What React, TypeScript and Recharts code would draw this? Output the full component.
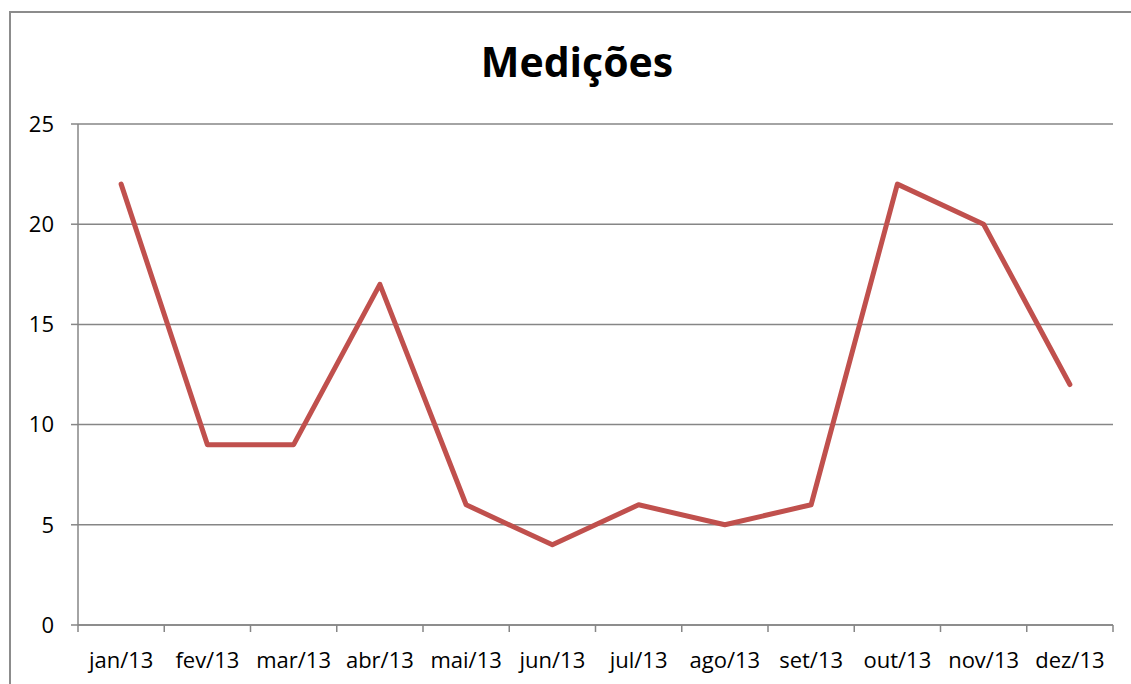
import React from "react";
import { LineChart, Line, XAxis, YAxis, CartesianGrid } from "recharts";

const months = ["jan/13", "fev/13", "mar/13", "abr/13", "mai/13", "jun/13", "jul/13", "ago/13", "set/13", "out/13", "nov/13", "dez/13"];
const values = [22, 9, 9, 17, 6, 4, 6, 5, 6, 22, 20, 12];
const yTicks = [0, 5, 10, 15, 20, 25];
const title = "Medições";

const data = months.map((m, i) => ({ month: m, pos: i + 0.5, value: values[i] }));
const boundaryTicks = months.map((_, i) => i).concat([months.length]);
const centerTicks = months.map((_, i) => i + 0.5);

const FONT = "'Open Sans', 'Liberation Sans', sans-serif";
const GRAY = "#868686";

export default function App() {
  return (
    <div style={{ position: "absolute", left: 0, top: 0, width: 1131, height: 684, overflow: "hidden", background: "#fff", fontFamily: FONT }}>
      <div style={{ position: "absolute", left: 9, top: 11, width: 1300, height: 900, border: "2px solid #8c8c8c", boxSizing: "border-box" }} />
      <div style={{ position: "absolute", left: 277, width: 600, top: 41, textAlign: "center", fontSize: 41, fontWeight: 700, color: "#000", lineHeight: 1 }}>{title}</div>
      <div style={{ position: "absolute", left: 0, top: 0 }}>
        <LineChart width={1131} height={684} data={data} margin={{ top: 124, right: 18, bottom: 0, left: 18 }}>
          <CartesianGrid vertical={false} stroke={GRAY} strokeWidth={1.5} xAxisId="b" />
          <XAxis xAxisId="b" type="number" dataKey="pos" domain={[0, 12]} ticks={boundaryTicks} interval={0} height={7} tickSize={7} tick={() => <g />} stroke={GRAY} strokeWidth={1.5} />
          <XAxis xAxisId="lbl" type="number" dataKey="pos" domain={[0, 12]} ticks={centerTicks} interval={0} height={52} tickSize={0} tickMargin={20} axisLine={false} tickLine={false} tickFormatter={(v: number) => months[Math.floor(v)]} tick={{ fill: "#000", fontSize: 22, fontFamily: FONT }} />
          <YAxis type="number" domain={[0, 25]} ticks={yTicks} interval={0} width={60} tickSize={7} tickMargin={17} stroke={GRAY} strokeWidth={1.5} tick={{ fill: "#000", fontSize: 22, fontFamily: FONT }} />
          <Line xAxisId="b" type="linear" dataKey="value" stroke="#C0504D" strokeWidth={5} dot={false} isAnimationActive={false} strokeLinejoin="round" strokeLinecap="round" />
        </LineChart>
      </div>
    </div>
  );
}
